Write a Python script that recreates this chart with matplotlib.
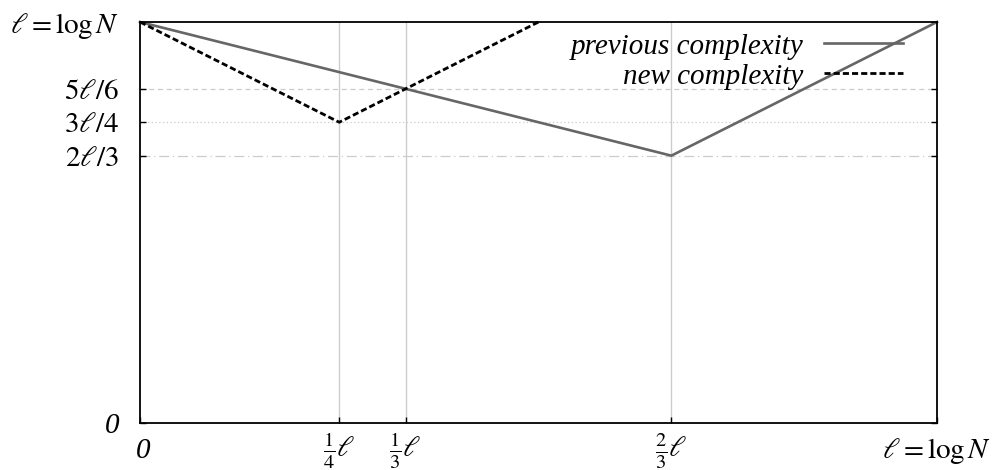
import matplotlib
matplotlib.use("Agg")
import matplotlib.pyplot as plt
import matplotlib.transforms as mtransforms

plt.rcParams["font.family"] = ["Liberation Serif", "DejaVu Serif"]
plt.rcParams["mathtext.fontset"] = "stix"

# data (fractions of l = log N)
prev_x = [0, 2 / 3, 1]
prev_y = [1, 2 / 3, 1]
new_x = [0, 1 / 4, 1 / 2]
new_y = [1, 3 / 4, 1]

xticks = [0, 1 / 4, 1 / 3, 2 / 3, 1]
xtick_labels = ["0", r"$\frac{1}{4}\ell$", r"$\frac{1}{3}\ell$", r"$\frac{2}{3}\ell$", r"$\ell = \log N$"]
yticks = [0, 2 / 3, 3 / 4, 5 / 6, 1]
ytick_labels = ["0", r"$2\ell/3$", r"$3\ell/4$", r"$5\ell/6$", r"$\ell = \log N$"]

fig = plt.figure(figsize=(9.95, 4.7), dpi=100)
ax = fig.add_axes([140 / 995, 1 - 423 / 470, 797 / 995, 401 / 470])

# grid lines
for xv in [1 / 4, 1 / 3, 2 / 3]:
    ax.axvline(xv, color="#cccccc", lw=1, zorder=0)
ax.axhline(5 / 6, color="#cccccc", lw=0.9, ls=(0, (4, 3)), zorder=0)
ax.axhline(3 / 4, color="#cccccc", lw=0.9, ls=(0, (1, 2)), zorder=0)
ax.axhline(2 / 3, color="#cccccc", lw=0.9, ls=(0, (8, 3, 1, 3)), zorder=0)

ax.plot(prev_x, prev_y, color="#666666", lw=1.9, label="previous complexity", clip_on=False)
ax.plot(new_x, new_y, color="black", lw=2, ls=(0, (2.2, 1.1)), label="new complexity", clip_on=False)

ax.set_xlim(0, 1)
ax.set_ylim(0, 1)
ax.set_xticks(xticks)
ax.set_xticklabels(xtick_labels, fontsize=21, va="center")
ax.set_yticks(yticks)
ax.set_yticklabels(ytick_labels, fontsize=21)
ax.tick_params(direction="in", length=4, width=1, top=False, right=True)
ax.tick_params(axis="y", pad=15)
ax.tick_params(axis="x", pad=20)

# zero labels are italic
xl0 = ax.get_xticklabels()[0]
xl0.set_fontstyle("italic")
xl0.set_transform(xl0.get_transform() + mtransforms.ScaledTranslation(3 / 100, 0, fig.dpi_scale_trans))
yl0 = ax.get_yticklabels()[0]
yl0.set_fontstyle("italic")

for s in ax.spines.values():
    s.set_linewidth(1.3)

leg = ax.legend(loc="upper right", frameon=False, markerfirst=False, handlelength=2.7,
                prop={"style": "italic", "size": 21}, labelspacing=0.12,
                bbox_to_anchor=(0.957, 0.972), borderaxespad=0, borderpad=0,
                handletextpad=0.7)
for t in leg.get_texts():
    t.set_ha("right")

fig.savefig("out.png", dpi=100)
